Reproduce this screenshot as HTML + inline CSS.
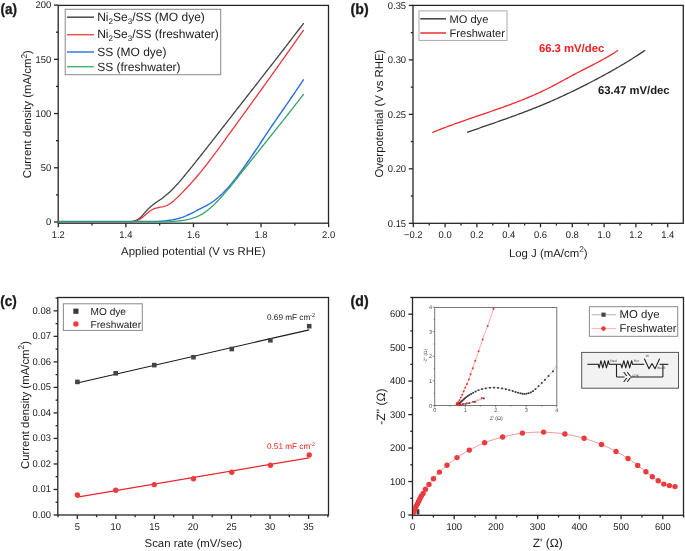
<!DOCTYPE html>
<html><head><meta charset="utf-8"><style>
html,body{margin:0;padding:0;background:#fff;}
body{width:685px;height:551px;overflow:hidden;}
svg{display:block;font-family:"Liberation Sans", sans-serif;}
svg{will-change:transform}
text{text-rendering:geometricPrecision}
</style></head><body>
<svg width="685" height="551" viewBox="0 0 685 551">
<rect width="685" height="551" fill="#fff"/>
<rect x="58.20" y="5.40" width="270.30" height="217.80" fill="none" stroke="#262626" stroke-width="1.3"/>
<line x1="58.30" y1="223.20" x2="58.30" y2="227.20" stroke="#262626" stroke-width="1.3" />
<text transform="translate(58.30,237.80) scale(0.96,1)" font-size="9.8" text-anchor="middle" fill="#1a1a1a" font-weight="normal" >1.2</text>
<line x1="125.88" y1="223.20" x2="125.88" y2="227.20" stroke="#262626" stroke-width="1.3" />
<text transform="translate(125.88,237.80) scale(0.96,1)" font-size="9.8" text-anchor="middle" fill="#1a1a1a" font-weight="normal" >1.4</text>
<line x1="193.46" y1="223.20" x2="193.46" y2="227.20" stroke="#262626" stroke-width="1.3" />
<text transform="translate(193.46,237.80) scale(0.96,1)" font-size="9.8" text-anchor="middle" fill="#1a1a1a" font-weight="normal" >1.6</text>
<line x1="261.04" y1="223.20" x2="261.04" y2="227.20" stroke="#262626" stroke-width="1.3" />
<text transform="translate(261.04,237.80) scale(0.96,1)" font-size="9.8" text-anchor="middle" fill="#1a1a1a" font-weight="normal" >1.8</text>
<line x1="328.62" y1="223.20" x2="328.62" y2="227.20" stroke="#262626" stroke-width="1.3" />
<text transform="translate(328.62,237.80) scale(0.96,1)" font-size="9.8" text-anchor="middle" fill="#1a1a1a" font-weight="normal" >2.0</text>
<line x1="92.09" y1="223.20" x2="92.09" y2="225.40" stroke="#262626" stroke-width="1.3" />
<line x1="159.67" y1="223.20" x2="159.67" y2="225.40" stroke="#262626" stroke-width="1.3" />
<line x1="227.25" y1="223.20" x2="227.25" y2="225.40" stroke="#262626" stroke-width="1.3" />
<line x1="294.83" y1="223.20" x2="294.83" y2="225.40" stroke="#262626" stroke-width="1.3" />
<line x1="54.00" y1="222.00" x2="58.20" y2="222.00" stroke="#262626" stroke-width="1.3" />
<text transform="translate(51.30,225.20) scale(0.96,1)" font-size="9.8" text-anchor="end" fill="#1a1a1a" font-weight="normal" >0</text>
<line x1="54.00" y1="167.78" x2="58.20" y2="167.78" stroke="#262626" stroke-width="1.3" />
<text transform="translate(51.30,170.97) scale(0.96,1)" font-size="9.8" text-anchor="end" fill="#1a1a1a" font-weight="normal" >50</text>
<line x1="54.00" y1="113.55" x2="58.20" y2="113.55" stroke="#262626" stroke-width="1.3" />
<text transform="translate(51.30,116.75) scale(0.96,1)" font-size="9.8" text-anchor="end" fill="#1a1a1a" font-weight="normal" >100</text>
<line x1="54.00" y1="59.32" x2="58.20" y2="59.32" stroke="#262626" stroke-width="1.3" />
<text transform="translate(51.30,62.52) scale(0.96,1)" font-size="9.8" text-anchor="end" fill="#1a1a1a" font-weight="normal" >150</text>
<line x1="54.00" y1="5.10" x2="58.20" y2="5.10" stroke="#262626" stroke-width="1.3" />
<text transform="translate(51.30,8.30) scale(0.96,1)" font-size="9.8" text-anchor="end" fill="#1a1a1a" font-weight="normal" >200</text>
<line x1="56.00" y1="194.89" x2="58.20" y2="194.89" stroke="#262626" stroke-width="1.3" />
<line x1="56.00" y1="140.66" x2="58.20" y2="140.66" stroke="#262626" stroke-width="1.3" />
<line x1="56.00" y1="86.44" x2="58.20" y2="86.44" stroke="#262626" stroke-width="1.3" />
<line x1="56.00" y1="32.21" x2="58.20" y2="32.21" stroke="#262626" stroke-width="1.3" />
<text x="193.30" y="255.40" font-size="11.4" text-anchor="middle" fill="#1a1a1a" font-weight="normal" >Applied potential (V vs RHE)</text>
<text transform="translate(31,114.2) rotate(-90)" font-size="11.4" text-anchor="middle" fill="#1a1a1a">Current density (mA/cm<tspan font-size="8.3" dy="-4.3">2</tspan><tspan dy="4.3">)</tspan></text>
<path d="M58.50,221.70 L60.00,221.70 L61.50,221.70 L63.00,221.70 L64.50,221.70 L66.00,221.70 L67.50,221.70 L69.00,221.70 L70.50,221.70 L72.00,221.70 L73.50,221.70 L75.00,221.70 L76.50,221.70 L78.00,221.70 L79.50,221.70 L81.00,221.70 L82.50,221.70 L84.00,221.70 L85.50,221.70 L87.00,221.70 L88.50,221.70 L90.00,221.70 L91.50,221.70 L93.00,221.70 L94.50,221.70 L96.00,221.70 L97.50,221.70 L99.00,221.70 L100.50,221.70 L102.00,221.70 L103.50,221.70 L105.00,221.70 L106.50,221.70 L108.00,221.70 L109.50,221.70 L111.00,221.70 L112.50,221.70 L114.00,221.70 L115.50,221.70 L117.00,221.70 L118.50,221.70 L120.00,221.70 L121.50,221.70 L123.00,221.70 L124.50,221.70 L126.00,221.70 L127.50,221.70 L129.00,221.70 L130.50,221.65 L132.00,221.50 L133.50,221.16 L135.00,220.70 L136.50,220.10 L138.00,219.30 L139.50,218.25 L141.00,216.94 L142.50,215.38 L144.00,213.69 L145.50,211.94 L147.00,210.22 L148.50,208.62 L150.00,207.18 L151.50,205.89 L153.00,204.71 L154.50,203.61 L156.00,202.57 L157.50,201.56 L159.00,200.55 L160.50,199.51 L162.00,198.43 L163.50,197.29 L165.00,196.10 L166.50,194.85 L168.00,193.55 L169.50,192.17 L171.00,190.74 L172.50,189.25 L174.00,187.71 L175.50,186.12 L177.00,184.49 L178.50,182.81 L180.00,181.10 L181.50,179.35 L183.00,177.58 L184.50,175.78 L186.00,173.96 L187.50,172.12 L189.00,170.27 L190.50,168.41 L192.00,166.54 L193.50,164.67 L195.00,162.79 L196.50,160.91 L198.00,159.02 L199.50,157.13 L201.00,155.23 L202.50,153.33 L204.00,151.43 L205.50,149.53 L207.00,147.62 L208.50,145.71 L210.00,143.79 L211.50,141.87 L213.00,139.96 L214.50,138.04 L216.00,136.11 L217.50,134.19 L219.00,132.27 L220.50,130.34 L222.00,128.41 L223.50,126.49 L225.00,124.56 L226.50,122.64 L228.00,120.71 L229.50,118.79 L231.00,116.86 L232.50,114.94 L234.00,113.02 L235.50,111.09 L237.00,109.17 L238.50,107.25 L240.00,105.33 L241.50,103.41 L243.00,101.49 L244.50,99.58 L246.00,97.66 L247.50,95.74 L249.00,93.82 L250.50,91.90 L252.00,89.98 L253.50,88.06 L255.00,86.15 L256.50,84.23 L258.00,82.31 L259.50,80.38 L261.00,78.46 L262.50,76.54 L264.00,74.62 L265.50,72.69 L267.00,70.77 L268.50,68.84 L270.00,66.92 L271.50,64.99 L273.00,63.06 L274.50,61.13 L276.00,59.20 L277.50,57.26 L279.00,55.33 L280.50,53.39 L282.00,51.45 L283.50,49.51 L285.00,47.57 L286.50,45.62 L288.00,43.68 L289.50,41.73 L291.00,39.78 L292.50,37.82 L294.00,35.87 L295.50,33.91 L297.00,31.94 L298.50,29.98 L300.00,28.01 L301.50,26.04 L303.00,24.07 L303.40,23.54" fill="none" stroke="#444444" stroke-width="1.3" stroke-linejoin="round" stroke-linecap="round" />
<path d="M58.50,221.70 L60.00,221.70 L61.50,221.70 L63.00,221.70 L64.50,221.70 L66.00,221.70 L67.50,221.70 L69.00,221.70 L70.50,221.70 L72.00,221.70 L73.50,221.70 L75.00,221.70 L76.50,221.70 L78.00,221.70 L79.50,221.70 L81.00,221.70 L82.50,221.70 L84.00,221.70 L85.50,221.70 L87.00,221.70 L88.50,221.70 L90.00,221.70 L91.50,221.70 L93.00,221.70 L94.50,221.70 L96.00,221.70 L97.50,221.70 L99.00,221.70 L100.50,221.70 L102.00,221.70 L103.50,221.70 L105.00,221.70 L106.50,221.70 L108.00,221.70 L109.50,221.70 L111.00,221.70 L112.50,221.70 L114.00,221.70 L115.50,221.70 L117.00,221.70 L118.50,221.70 L120.00,221.70 L121.50,221.70 L123.00,221.70 L124.50,221.70 L126.00,221.70 L127.50,221.70 L129.00,221.70 L130.50,221.69 L132.00,221.60 L133.50,221.42 L135.00,221.08 L136.50,220.58 L138.00,220.05 L139.50,219.34 L141.00,218.43 L142.50,217.34 L144.00,216.11 L145.50,214.82 L147.00,213.51 L148.50,212.23 L150.00,211.06 L151.50,210.03 L153.00,209.21 L154.50,208.59 L156.00,208.12 L157.50,207.76 L159.00,207.47 L160.50,207.20 L162.00,206.91 L163.50,206.55 L165.00,206.09 L166.50,205.50 L168.00,204.79 L169.50,203.95 L171.00,202.97 L172.50,201.87 L174.00,200.64 L175.50,199.30 L177.00,197.89 L178.50,196.42 L180.00,194.92 L181.50,193.39 L183.00,191.85 L184.50,190.30 L186.00,188.72 L187.50,187.11 L189.00,185.49 L190.50,183.84 L192.00,182.17 L193.50,180.47 L195.00,178.75 L196.50,177.01 L198.00,175.24 L199.50,173.45 L201.00,171.62 L202.50,169.78 L204.00,167.90 L205.50,166.00 L207.00,164.08 L208.50,162.14 L210.00,160.17 L211.50,158.19 L213.00,156.20 L214.50,154.18 L216.00,152.16 L217.50,150.12 L219.00,148.07 L220.50,146.01 L222.00,143.95 L223.50,141.88 L225.00,139.81 L226.50,137.73 L228.00,135.65 L229.50,133.58 L231.00,131.50 L232.50,129.43 L234.00,127.36 L235.50,125.29 L237.00,123.22 L238.50,121.15 L240.00,119.09 L241.50,117.02 L243.00,114.95 L244.50,112.89 L246.00,110.82 L247.50,108.75 L249.00,106.68 L250.50,104.61 L252.00,102.54 L253.50,100.47 L255.00,98.39 L256.50,96.32 L258.00,94.24 L259.50,92.16 L261.00,90.08 L262.50,88.00 L264.00,85.91 L265.50,83.82 L267.00,81.73 L268.50,79.63 L270.00,77.54 L271.50,75.43 L273.00,73.33 L274.50,71.22 L276.00,69.11 L277.50,67.00 L279.00,64.89 L280.50,62.77 L282.00,60.66 L283.50,58.54 L285.00,56.42 L286.50,54.30 L288.00,52.18 L289.50,50.06 L291.00,47.94 L292.50,45.82 L294.00,43.69 L295.50,41.57 L297.00,39.45 L298.50,37.33 L300.00,35.21 L301.50,33.09 L303.00,30.97 L303.40,30.40" fill="none" stroke="#e8383d" stroke-width="1.3" stroke-linejoin="round" stroke-linecap="round" />
<path d="M58.50,221.40 L60.00,221.40 L61.50,221.40 L63.00,221.40 L64.50,221.40 L66.00,221.40 L67.50,221.40 L69.00,221.40 L70.50,221.40 L72.00,221.40 L73.50,221.40 L75.00,221.40 L76.50,221.40 L78.00,221.40 L79.50,221.40 L81.00,221.40 L82.50,221.40 L84.00,221.40 L85.50,221.40 L87.00,221.40 L88.50,221.40 L90.00,221.40 L91.50,221.40 L93.00,221.40 L94.50,221.40 L96.00,221.40 L97.50,221.40 L99.00,221.40 L100.50,221.40 L102.00,221.40 L103.50,221.40 L105.00,221.40 L106.50,221.40 L108.00,221.40 L109.50,221.40 L111.00,221.40 L112.50,221.40 L114.00,221.40 L115.50,221.40 L117.00,221.40 L118.50,221.40 L120.00,221.40 L121.50,221.40 L123.00,221.40 L124.50,221.40 L126.00,221.40 L127.50,221.40 L129.00,221.40 L130.50,221.40 L132.00,221.40 L133.50,221.40 L135.00,221.40 L136.50,221.40 L138.00,221.40 L139.50,221.40 L141.00,221.40 L142.50,221.40 L144.00,221.40 L145.50,221.40 L147.00,221.40 L148.50,221.40 L150.00,221.40 L151.50,221.40 L153.00,221.40 L154.50,221.40 L156.00,221.40 L157.50,221.38 L159.00,221.32 L160.50,221.21 L162.00,221.09 L163.50,220.97 L165.00,220.83 L166.50,220.68 L168.00,220.50 L169.50,220.30 L171.00,220.07 L172.50,219.82 L174.00,219.53 L175.50,219.21 L177.00,218.85 L178.50,218.46 L180.00,218.03 L181.50,217.56 L183.00,217.04 L184.50,216.47 L186.00,215.86 L187.50,215.20 L189.00,214.51 L190.50,213.78 L192.00,213.04 L193.50,212.27 L195.00,211.50 L196.50,210.73 L198.00,209.96 L199.50,209.20 L201.00,208.43 L202.50,207.66 L204.00,206.89 L205.50,206.10 L207.00,205.28 L208.50,204.42 L210.00,203.52 L211.50,202.57 L213.00,201.55 L214.50,200.45 L216.00,199.29 L217.50,198.05 L219.00,196.75 L220.50,195.38 L222.00,193.95 L223.50,192.45 L225.00,190.90 L226.50,189.30 L228.00,187.63 L229.50,185.92 L231.00,184.16 L232.50,182.35 L234.00,180.50 L235.50,178.61 L237.00,176.68 L238.50,174.71 L240.00,172.70 L241.50,170.67 L243.00,168.60 L244.50,166.51 L246.00,164.39 L247.50,162.25 L249.00,160.09 L250.50,157.90 L252.00,155.70 L253.50,153.49 L255.00,151.26 L256.50,149.02 L258.00,146.77 L259.50,144.52 L261.00,142.26 L262.50,140.00 L264.00,137.73 L265.50,135.47 L267.00,133.22 L268.50,130.96 L270.00,128.72 L271.50,126.48 L273.00,124.26 L274.50,122.05 L276.00,119.85 L277.50,117.67 L279.00,115.49 L280.50,113.32 L282.00,111.16 L283.50,109.00 L285.00,106.84 L286.50,104.69 L288.00,102.53 L289.50,100.36 L291.00,98.20 L292.50,96.02 L294.00,93.84 L295.50,91.64 L297.00,89.44 L298.50,87.22 L300.00,84.98 L301.50,82.72 L303.00,80.45 L303.40,79.84" fill="none" stroke="#2a6ee6" stroke-width="1.4" stroke-linejoin="round" stroke-linecap="round" />
<path d="M58.50,221.90 L60.00,221.90 L61.50,221.90 L63.00,221.90 L64.50,221.90 L66.00,221.90 L67.50,221.90 L69.00,221.90 L70.50,221.90 L72.00,221.90 L73.50,221.90 L75.00,221.90 L76.50,221.90 L78.00,221.90 L79.50,221.90 L81.00,221.90 L82.50,221.90 L84.00,221.90 L85.50,221.90 L87.00,221.90 L88.50,221.90 L90.00,221.90 L91.50,221.90 L93.00,221.90 L94.50,221.90 L96.00,221.90 L97.50,221.90 L99.00,221.90 L100.50,221.90 L102.00,221.90 L103.50,221.90 L105.00,221.90 L106.50,221.90 L108.00,221.90 L109.50,221.90 L111.00,221.90 L112.50,221.90 L114.00,221.90 L115.50,221.90 L117.00,221.90 L118.50,221.90 L120.00,221.90 L121.50,221.90 L123.00,221.90 L124.50,221.90 L126.00,221.90 L127.50,221.90 L129.00,221.90 L130.50,221.90 L132.00,221.90 L133.50,221.90 L135.00,221.90 L136.50,221.90 L138.00,221.90 L139.50,221.90 L141.00,221.90 L142.50,221.90 L144.00,221.90 L145.50,221.90 L147.00,221.90 L148.50,221.90 L150.00,221.90 L151.50,221.90 L153.00,221.90 L154.50,221.90 L156.00,221.90 L157.50,221.90 L159.00,221.90 L160.50,221.90 L162.00,221.90 L163.50,221.90 L165.00,221.90 L166.50,221.85 L168.00,221.78 L169.50,221.67 L171.00,221.52 L172.50,221.44 L174.00,221.34 L175.50,221.22 L177.00,221.08 L178.50,220.93 L180.00,220.76 L181.50,220.57 L183.00,220.35 L184.50,220.11 L186.00,219.85 L187.50,219.55 L189.00,219.22 L190.50,218.85 L192.00,218.43 L193.50,217.97 L195.00,217.44 L196.50,216.86 L198.00,216.21 L199.50,215.49 L201.00,214.70 L202.50,213.82 L204.00,212.87 L205.50,211.83 L207.00,210.73 L208.50,209.55 L210.00,208.30 L211.50,206.99 L213.00,205.62 L214.50,204.20 L216.00,202.72 L217.50,201.19 L219.00,199.62 L220.50,198.00 L222.00,196.34 L223.50,194.65 L225.00,192.92 L226.50,191.16 L228.00,189.37 L229.50,187.55 L231.00,185.72 L232.50,183.87 L234.00,182.00 L235.50,180.12 L237.00,178.23 L238.50,176.34 L240.00,174.44 L241.50,172.54 L243.00,170.65 L244.50,168.76 L246.00,166.87 L247.50,164.99 L249.00,163.11 L250.50,161.23 L252.00,159.35 L253.50,157.47 L255.00,155.60 L256.50,153.73 L258.00,151.86 L259.50,149.98 L261.00,148.11 L262.50,146.24 L264.00,144.37 L265.50,142.50 L267.00,140.63 L268.50,138.76 L270.00,136.89 L271.50,135.02 L273.00,133.14 L274.50,131.26 L276.00,129.39 L277.50,127.51 L279.00,125.62 L280.50,123.74 L282.00,121.85 L283.50,119.96 L285.00,118.07 L286.50,116.17 L288.00,114.27 L289.50,112.37 L291.00,110.46 L292.50,108.54 L294.00,106.63 L295.50,104.70 L297.00,102.78 L298.50,100.84 L300.00,98.90 L301.50,96.96 L303.00,95.01 L303.40,94.49" fill="none" stroke="#33a564" stroke-width="1.3" stroke-linejoin="round" stroke-linecap="round" />
<rect x="65.2" y="9.3" width="155.5" height="65.4" fill="white" stroke="#8a8a8a" stroke-width="1"/>
<line x1="67.00" y1="17.20" x2="94.00" y2="17.20" stroke="#4a4a4a" stroke-width="1.5" />
<text x="97.20" y="20.90" font-size="12" text-anchor="start" fill="#1a1a1a" font-weight="normal" >Ni<tspan font-size="8" dy="3">2</tspan><tspan dy="-3">Se</tspan><tspan font-size="8" dy="3">3</tspan><tspan dy="-3">/SS (MO dye)</tspan></text>
<line x1="67.00" y1="34.70" x2="94.00" y2="34.70" stroke="#ec5050" stroke-width="1.5" />
<text x="97.20" y="38.20" font-size="12" text-anchor="start" fill="#1a1a1a" font-weight="normal" >Ni<tspan font-size="8" dy="3">2</tspan><tspan dy="-3">Se</tspan><tspan font-size="8" dy="3">3</tspan><tspan dy="-3">/SS (freshwater)</tspan></text>
<line x1="67.00" y1="52.00" x2="94.00" y2="52.00" stroke="#3a78e6" stroke-width="1.5" />
<text x="97.20" y="55.90" font-size="12" text-anchor="start" fill="#1a1a1a" font-weight="normal" >SS (MO dye)</text>
<line x1="67.00" y1="66.70" x2="94.00" y2="66.70" stroke="#4cb574" stroke-width="1.5" />
<text x="97.20" y="70.50" font-size="12" text-anchor="start" fill="#1a1a1a" font-weight="normal" >SS (freshwater)</text>
<text transform="translate(0.50,14.20) scale(0.9,1)" font-size="15" text-anchor="start" fill="#1a1a1a" font-weight="bold" stroke="#1a1a1a" stroke-width="0.35">(a)</text>
<rect x="413.00" y="5.40" width="270.30" height="217.90" fill="none" stroke="#262626" stroke-width="1.3"/>
<line x1="413.30" y1="223.30" x2="413.30" y2="227.30" stroke="#262626" stroke-width="1.3" />
<text transform="translate(413.30,237.80) scale(0.96,1)" font-size="9.8" text-anchor="middle" fill="#1a1a1a" font-weight="normal" >−0.2</text>
<line x1="445.10" y1="223.30" x2="445.10" y2="227.30" stroke="#262626" stroke-width="1.3" />
<text transform="translate(445.10,237.80) scale(0.96,1)" font-size="9.8" text-anchor="middle" fill="#1a1a1a" font-weight="normal" >0.0</text>
<line x1="476.90" y1="223.30" x2="476.90" y2="227.30" stroke="#262626" stroke-width="1.3" />
<text transform="translate(476.90,237.80) scale(0.96,1)" font-size="9.8" text-anchor="middle" fill="#1a1a1a" font-weight="normal" >0.2</text>
<line x1="508.70" y1="223.30" x2="508.70" y2="227.30" stroke="#262626" stroke-width="1.3" />
<text transform="translate(508.70,237.80) scale(0.96,1)" font-size="9.8" text-anchor="middle" fill="#1a1a1a" font-weight="normal" >0.4</text>
<line x1="540.50" y1="223.30" x2="540.50" y2="227.30" stroke="#262626" stroke-width="1.3" />
<text transform="translate(540.50,237.80) scale(0.96,1)" font-size="9.8" text-anchor="middle" fill="#1a1a1a" font-weight="normal" >0.6</text>
<line x1="572.30" y1="223.30" x2="572.30" y2="227.30" stroke="#262626" stroke-width="1.3" />
<text transform="translate(572.30,237.80) scale(0.96,1)" font-size="9.8" text-anchor="middle" fill="#1a1a1a" font-weight="normal" >0.8</text>
<line x1="604.10" y1="223.30" x2="604.10" y2="227.30" stroke="#262626" stroke-width="1.3" />
<text transform="translate(604.10,237.80) scale(0.96,1)" font-size="9.8" text-anchor="middle" fill="#1a1a1a" font-weight="normal" >1.0</text>
<line x1="635.90" y1="223.30" x2="635.90" y2="227.30" stroke="#262626" stroke-width="1.3" />
<text transform="translate(635.90,237.80) scale(0.96,1)" font-size="9.8" text-anchor="middle" fill="#1a1a1a" font-weight="normal" >1.2</text>
<line x1="667.70" y1="223.30" x2="667.70" y2="227.30" stroke="#262626" stroke-width="1.3" />
<text transform="translate(667.70,237.80) scale(0.96,1)" font-size="9.8" text-anchor="middle" fill="#1a1a1a" font-weight="normal" >1.4</text>
<line x1="429.20" y1="223.30" x2="429.20" y2="225.50" stroke="#262626" stroke-width="1.3" />
<line x1="461.00" y1="223.30" x2="461.00" y2="225.50" stroke="#262626" stroke-width="1.3" />
<line x1="492.80" y1="223.30" x2="492.80" y2="225.50" stroke="#262626" stroke-width="1.3" />
<line x1="524.60" y1="223.30" x2="524.60" y2="225.50" stroke="#262626" stroke-width="1.3" />
<line x1="556.40" y1="223.30" x2="556.40" y2="225.50" stroke="#262626" stroke-width="1.3" />
<line x1="588.20" y1="223.30" x2="588.20" y2="225.50" stroke="#262626" stroke-width="1.3" />
<line x1="620.00" y1="223.30" x2="620.00" y2="225.50" stroke="#262626" stroke-width="1.3" />
<line x1="651.80" y1="223.30" x2="651.80" y2="225.50" stroke="#262626" stroke-width="1.3" />
<line x1="408.80" y1="223.30" x2="413.00" y2="223.30" stroke="#262626" stroke-width="1.3" />
<text transform="translate(406.10,226.60) scale(0.96,1)" font-size="9.8" text-anchor="end" fill="#1a1a1a" font-weight="normal" >0.15</text>
<line x1="408.80" y1="168.82" x2="413.00" y2="168.82" stroke="#262626" stroke-width="1.3" />
<text transform="translate(406.10,172.12) scale(0.96,1)" font-size="9.8" text-anchor="end" fill="#1a1a1a" font-weight="normal" >0.20</text>
<line x1="408.80" y1="114.35" x2="413.00" y2="114.35" stroke="#262626" stroke-width="1.3" />
<text transform="translate(406.10,117.65) scale(0.96,1)" font-size="9.8" text-anchor="end" fill="#1a1a1a" font-weight="normal" >0.25</text>
<line x1="408.80" y1="59.87" x2="413.00" y2="59.87" stroke="#262626" stroke-width="1.3" />
<text transform="translate(406.10,63.17) scale(0.96,1)" font-size="9.8" text-anchor="end" fill="#1a1a1a" font-weight="normal" >0.30</text>
<line x1="408.80" y1="5.40" x2="413.00" y2="5.40" stroke="#262626" stroke-width="1.3" />
<text transform="translate(406.10,8.70) scale(0.96,1)" font-size="9.8" text-anchor="end" fill="#1a1a1a" font-weight="normal" >0.35</text>
<line x1="410.80" y1="196.06" x2="413.00" y2="196.06" stroke="#262626" stroke-width="1.3" />
<line x1="410.80" y1="141.59" x2="413.00" y2="141.59" stroke="#262626" stroke-width="1.3" />
<line x1="410.80" y1="87.11" x2="413.00" y2="87.11" stroke="#262626" stroke-width="1.3" />
<line x1="410.80" y1="32.64" x2="413.00" y2="32.64" stroke="#262626" stroke-width="1.3" />
<text x="548.3" y="256.5" font-size="11.4" text-anchor="middle" fill="#1a1a1a">Log J (mA/cm<tspan font-size="8.3" dy="-4.3">2</tspan><tspan dy="4.3">)</tspan></text>
<text transform="translate(383.2,113.6) rotate(-90)" font-size="11.4" text-anchor="middle" fill="#1a1a1a">Overpotential (V vs RHE)</text>
<path d="M467.60,132.21 L469.10,131.68 L470.60,131.15 L472.10,130.62 L473.60,130.10 L475.10,129.57 L476.60,129.05 L478.10,128.53 L479.60,128.01 L481.10,127.48 L482.60,126.96 L484.10,126.44 L485.60,125.92 L487.10,125.40 L488.60,124.88 L490.10,124.36 L491.60,123.83 L493.10,123.31 L494.60,122.79 L496.10,122.26 L497.60,121.74 L499.10,121.21 L500.60,120.69 L502.10,120.16 L503.60,119.63 L505.10,119.09 L506.60,118.56 L508.10,118.02 L509.60,117.49 L511.10,116.95 L512.60,116.40 L514.10,115.86 L515.60,115.31 L517.10,114.76 L518.60,114.20 L520.10,113.65 L521.60,113.09 L523.10,112.52 L524.60,111.96 L526.10,111.39 L527.60,110.81 L529.10,110.23 L530.60,109.65 L532.10,109.06 L533.60,108.47 L535.10,107.88 L536.60,107.28 L538.10,106.67 L539.60,106.06 L541.10,105.45 L542.60,104.83 L544.10,104.20 L545.60,103.57 L547.10,102.94 L548.60,102.29 L550.10,101.65 L551.60,100.99 L553.10,100.33 L554.60,99.67 L556.10,99.00 L557.60,98.32 L559.10,97.64 L560.60,96.95 L562.10,96.26 L563.60,95.57 L565.10,94.86 L566.60,94.16 L568.10,93.45 L569.60,92.73 L571.10,92.01 L572.60,91.29 L574.10,90.56 L575.60,89.82 L577.10,89.09 L578.60,88.35 L580.10,87.60 L581.60,86.85 L583.10,86.10 L584.60,85.34 L586.10,84.58 L587.60,83.81 L589.10,83.04 L590.60,82.27 L592.10,81.49 L593.60,80.71 L595.10,79.92 L596.60,79.13 L598.10,78.33 L599.60,77.53 L601.10,76.73 L602.60,75.92 L604.10,75.11 L605.60,74.29 L607.10,73.47 L608.60,72.64 L610.10,71.81 L611.60,70.97 L613.10,70.13 L614.60,69.28 L616.10,68.42 L617.60,67.56 L619.10,66.69 L620.60,65.81 L622.10,64.92 L623.60,64.03 L625.10,63.13 L626.60,62.22 L628.10,61.30 L629.60,60.37 L631.10,59.44 L632.60,58.49 L634.10,57.53 L635.60,56.57 L637.10,55.59 L638.60,54.61 L640.10,53.61 L641.60,52.61 L643.10,51.59 L644.60,50.56 L644.80,50.42" fill="none" stroke="#3c3c3c" stroke-width="1.3" stroke-linejoin="round" stroke-linecap="round" />
<path d="M432.90,132.31 L434.40,131.70 L435.90,131.09 L437.40,130.49 L438.90,129.90 L440.40,129.31 L441.90,128.73 L443.40,128.15 L444.90,127.58 L446.40,127.01 L447.90,126.45 L449.40,125.89 L450.90,125.34 L452.40,124.79 L453.90,124.24 L455.40,123.70 L456.90,123.16 L458.40,122.63 L459.90,122.10 L461.40,121.57 L462.90,121.04 L464.40,120.52 L465.90,120.00 L467.40,119.48 L468.90,118.96 L470.40,118.44 L471.90,117.93 L473.40,117.41 L474.90,116.90 L476.40,116.38 L477.90,115.87 L479.40,115.36 L480.90,114.85 L482.40,114.34 L483.90,113.82 L485.40,113.31 L486.90,112.79 L488.40,112.28 L489.90,111.76 L491.40,111.24 L492.90,110.72 L494.40,110.20 L495.90,109.68 L497.40,109.15 L498.90,108.62 L500.40,108.09 L501.90,107.56 L503.40,107.02 L504.90,106.48 L506.40,105.93 L507.90,105.39 L509.40,104.83 L510.90,104.28 L512.40,103.71 L513.90,103.15 L515.40,102.58 L516.90,102.00 L518.40,101.42 L519.90,100.83 L521.40,100.24 L522.90,99.64 L524.40,99.04 L525.90,98.42 L527.40,97.81 L528.90,97.18 L530.40,96.55 L531.90,95.91 L533.40,95.26 L534.90,94.60 L536.40,93.94 L537.90,93.26 L539.40,92.58 L540.90,91.88 L542.40,91.18 L543.90,90.47 L545.40,89.74 L546.90,89.00 L548.40,88.25 L549.90,87.49 L551.40,86.72 L552.90,85.94 L554.40,85.15 L555.90,84.36 L557.40,83.55 L558.90,82.74 L560.40,81.93 L561.90,81.11 L563.40,80.29 L564.90,79.47 L566.40,78.65 L567.90,77.84 L569.40,77.02 L570.90,76.21 L572.40,75.40 L573.90,74.60 L575.40,73.81 L576.90,73.02 L578.40,72.24 L579.90,71.46 L581.40,70.69 L582.90,69.93 L584.40,69.16 L585.90,68.40 L587.40,67.63 L588.90,66.87 L590.40,66.11 L591.90,65.34 L593.40,64.57 L594.90,63.79 L596.40,63.01 L597.90,62.22 L599.40,61.42 L600.90,60.61 L602.40,59.80 L603.90,58.97 L605.40,58.13 L606.90,57.28 L608.40,56.40 L609.90,55.52 L611.40,54.61 L612.90,53.68 L614.40,52.73 L615.90,51.76 L617.40,50.76 L617.60,50.63" fill="none" stroke="#ee2a2e" stroke-width="1.3" stroke-linejoin="round" stroke-linecap="round" />
<rect x="419.0" y="10.9" width="88.0" height="29.5" fill="white" stroke="#a8a8a8" stroke-width="1"/>
<line x1="420.30" y1="18.80" x2="446.00" y2="18.80" stroke="#4a4a4a" stroke-width="1.6" />
<line x1="420.30" y1="33.00" x2="446.00" y2="33.00" stroke="#ee3a3e" stroke-width="1.6" />
<text x="449.50" y="22.60" font-size="11.1" text-anchor="start" fill="#1a1a1a" font-weight="normal" >MO dye</text>
<text x="449.50" y="36.50" font-size="11.1" text-anchor="start" fill="#1a1a1a" font-weight="normal" >Freshwater</text>
<text x="538.90" y="51.70" font-size="11.3" text-anchor="start" fill="#f21d1d" font-weight="bold" >66.3 mV/dec</text>
<text x="598.00" y="93.90" font-size="11.3" text-anchor="start" fill="#1a1a1a" font-weight="bold" >63.47 mV/dec</text>
<text transform="translate(350.60,14.20) scale(0.94,1)" font-size="15" text-anchor="start" fill="#1a1a1a" font-weight="bold" stroke="#1a1a1a" stroke-width="0.35">(b)</text>
<rect x="57.80" y="297.50" width="270.70" height="217.50" fill="none" stroke="#262626" stroke-width="1.3"/>
<line x1="77.30" y1="515.00" x2="77.30" y2="519.00" stroke="#262626" stroke-width="1.3" />
<text transform="translate(77.30,529.50) scale(0.96,1)" font-size="9.8" text-anchor="middle" fill="#1a1a1a" font-weight="normal" >5</text>
<line x1="115.85" y1="515.00" x2="115.85" y2="519.00" stroke="#262626" stroke-width="1.3" />
<text transform="translate(115.85,529.50) scale(0.96,1)" font-size="9.8" text-anchor="middle" fill="#1a1a1a" font-weight="normal" >10</text>
<line x1="154.40" y1="515.00" x2="154.40" y2="519.00" stroke="#262626" stroke-width="1.3" />
<text transform="translate(154.40,529.50) scale(0.96,1)" font-size="9.8" text-anchor="middle" fill="#1a1a1a" font-weight="normal" >15</text>
<line x1="192.95" y1="515.00" x2="192.95" y2="519.00" stroke="#262626" stroke-width="1.3" />
<text transform="translate(192.95,529.50) scale(0.96,1)" font-size="9.8" text-anchor="middle" fill="#1a1a1a" font-weight="normal" >20</text>
<line x1="231.50" y1="515.00" x2="231.50" y2="519.00" stroke="#262626" stroke-width="1.3" />
<text transform="translate(231.50,529.50) scale(0.96,1)" font-size="9.8" text-anchor="middle" fill="#1a1a1a" font-weight="normal" >25</text>
<line x1="270.05" y1="515.00" x2="270.05" y2="519.00" stroke="#262626" stroke-width="1.3" />
<text transform="translate(270.05,529.50) scale(0.96,1)" font-size="9.8" text-anchor="middle" fill="#1a1a1a" font-weight="normal" >30</text>
<line x1="308.60" y1="515.00" x2="308.60" y2="519.00" stroke="#262626" stroke-width="1.3" />
<text transform="translate(308.60,529.50) scale(0.96,1)" font-size="9.8" text-anchor="middle" fill="#1a1a1a" font-weight="normal" >35</text>
<line x1="58.02" y1="515.00" x2="58.02" y2="517.20" stroke="#262626" stroke-width="1.3" />
<line x1="96.57" y1="515.00" x2="96.57" y2="517.20" stroke="#262626" stroke-width="1.3" />
<line x1="135.12" y1="515.00" x2="135.12" y2="517.20" stroke="#262626" stroke-width="1.3" />
<line x1="173.68" y1="515.00" x2="173.68" y2="517.20" stroke="#262626" stroke-width="1.3" />
<line x1="212.23" y1="515.00" x2="212.23" y2="517.20" stroke="#262626" stroke-width="1.3" />
<line x1="250.77" y1="515.00" x2="250.77" y2="517.20" stroke="#262626" stroke-width="1.3" />
<line x1="289.32" y1="515.00" x2="289.32" y2="517.20" stroke="#262626" stroke-width="1.3" />
<line x1="327.88" y1="515.00" x2="327.88" y2="517.20" stroke="#262626" stroke-width="1.3" />
<line x1="53.60" y1="515.00" x2="57.80" y2="515.00" stroke="#262626" stroke-width="1.3" />
<text transform="translate(50.90,517.80) scale(0.96,1)" font-size="9.8" text-anchor="end" fill="#1a1a1a" font-weight="normal" >0.00</text>
<line x1="53.60" y1="489.48" x2="57.80" y2="489.48" stroke="#262626" stroke-width="1.3" />
<text transform="translate(50.90,492.28) scale(0.96,1)" font-size="9.8" text-anchor="end" fill="#1a1a1a" font-weight="normal" >0.01</text>
<line x1="53.60" y1="463.96" x2="57.80" y2="463.96" stroke="#262626" stroke-width="1.3" />
<text transform="translate(50.90,466.76) scale(0.96,1)" font-size="9.8" text-anchor="end" fill="#1a1a1a" font-weight="normal" >0.02</text>
<line x1="53.60" y1="438.44" x2="57.80" y2="438.44" stroke="#262626" stroke-width="1.3" />
<text transform="translate(50.90,441.24) scale(0.96,1)" font-size="9.8" text-anchor="end" fill="#1a1a1a" font-weight="normal" >0.03</text>
<line x1="53.60" y1="412.92" x2="57.80" y2="412.92" stroke="#262626" stroke-width="1.3" />
<text transform="translate(50.90,415.72) scale(0.96,1)" font-size="9.8" text-anchor="end" fill="#1a1a1a" font-weight="normal" >0.04</text>
<line x1="53.60" y1="387.40" x2="57.80" y2="387.40" stroke="#262626" stroke-width="1.3" />
<text transform="translate(50.90,390.20) scale(0.96,1)" font-size="9.8" text-anchor="end" fill="#1a1a1a" font-weight="normal" >0.05</text>
<line x1="53.60" y1="361.88" x2="57.80" y2="361.88" stroke="#262626" stroke-width="1.3" />
<text transform="translate(50.90,364.68) scale(0.96,1)" font-size="9.8" text-anchor="end" fill="#1a1a1a" font-weight="normal" >0.06</text>
<line x1="53.60" y1="336.36" x2="57.80" y2="336.36" stroke="#262626" stroke-width="1.3" />
<text transform="translate(50.90,339.16) scale(0.96,1)" font-size="9.8" text-anchor="end" fill="#1a1a1a" font-weight="normal" >0.07</text>
<line x1="53.60" y1="310.84" x2="57.80" y2="310.84" stroke="#262626" stroke-width="1.3" />
<text transform="translate(50.90,313.64) scale(0.96,1)" font-size="9.8" text-anchor="end" fill="#1a1a1a" font-weight="normal" >0.08</text>
<line x1="55.60" y1="502.24" x2="57.80" y2="502.24" stroke="#262626" stroke-width="1.3" />
<line x1="55.60" y1="476.72" x2="57.80" y2="476.72" stroke="#262626" stroke-width="1.3" />
<line x1="55.60" y1="451.20" x2="57.80" y2="451.20" stroke="#262626" stroke-width="1.3" />
<line x1="55.60" y1="425.68" x2="57.80" y2="425.68" stroke="#262626" stroke-width="1.3" />
<line x1="55.60" y1="400.16" x2="57.80" y2="400.16" stroke="#262626" stroke-width="1.3" />
<line x1="55.60" y1="374.64" x2="57.80" y2="374.64" stroke="#262626" stroke-width="1.3" />
<line x1="55.60" y1="349.12" x2="57.80" y2="349.12" stroke="#262626" stroke-width="1.3" />
<line x1="55.60" y1="323.60" x2="57.80" y2="323.60" stroke="#262626" stroke-width="1.3" />
<line x1="55.60" y1="298.08" x2="57.80" y2="298.08" stroke="#262626" stroke-width="1.3" />
<text x="193.30" y="547.30" font-size="11.4" text-anchor="middle" fill="#1a1a1a" font-weight="normal" >Scan rate (mV/sec)</text>
<text transform="translate(28.5,405) rotate(-90)" font-size="11.4" text-anchor="middle" fill="#1a1a1a">Current density (mA/cm<tspan font-size="8.3" dy="-4.3">2</tspan><tspan dy="4.3">)</tspan></text>
<line x1="77.30" y1="383.00" x2="309.20" y2="329.80" stroke="#1a1a1a" stroke-width="1.2" />
<line x1="77.30" y1="497.10" x2="309.20" y2="457.80" stroke="#e8262b" stroke-width="1.2" />
<rect x="75.10" y="379.60" width="4.6" height="4.6" fill="#444"/>
<rect x="113.40" y="371.00" width="4.6" height="4.6" fill="#444"/>
<rect x="152.00" y="362.80" width="4.6" height="4.6" fill="#444"/>
<rect x="191.20" y="354.90" width="4.6" height="4.6" fill="#444"/>
<rect x="229.50" y="346.70" width="4.6" height="4.6" fill="#444"/>
<rect x="268.10" y="338.00" width="4.6" height="4.6" fill="#444"/>
<rect x="306.90" y="323.90" width="4.6" height="4.6" fill="#444"/>
<circle cx="77.40" cy="495.00" r="2.7" fill="#eb3b3e"/>
<circle cx="115.70" cy="490.20" r="2.7" fill="#eb3b3e"/>
<circle cx="154.30" cy="484.60" r="2.7" fill="#eb3b3e"/>
<circle cx="193.50" cy="478.70" r="2.7" fill="#eb3b3e"/>
<circle cx="231.80" cy="472.30" r="2.7" fill="#eb3b3e"/>
<circle cx="270.40" cy="465.20" r="2.7" fill="#eb3b3e"/>
<circle cx="309.20" cy="454.90" r="2.7" fill="#eb3b3e"/>
<rect x="63.4" y="303.8" width="78.9" height="26.6" fill="white" stroke="#8a8a8a" stroke-width="1"/>
<rect x="73.3" y="308.6" width="5.2" height="5.2" fill="#3a3a3a"/>
<circle cx="75.9" cy="323.9" r="2.7" fill="#eb3b3e"/>
<text x="90.60" y="314.80" font-size="10.1" text-anchor="start" fill="#1a1a1a" font-weight="normal" >MO dye</text>
<text x="90.60" y="328.00" font-size="10.1" text-anchor="start" fill="#1a1a1a" font-weight="normal" >Freshwater</text>
<text x="267" y="319.5" font-size="8.2" fill="#1a1a1a">0.69 mF cm<tspan font-size="5.5" dy="-3">-2</tspan></text>
<text x="267" y="448.7" font-size="8.2" fill="#f01c1c">0.51 mF cm<tspan font-size="5.5" dy="-3">-2</tspan></text>
<text transform="translate(0.20,306.20) scale(0.9,1)" font-size="15" text-anchor="start" fill="#1a1a1a" font-weight="bold" stroke="#1a1a1a" stroke-width="0.35">(c)</text>
<rect x="412.50" y="297.50" width="271.00" height="217.80" fill="none" stroke="#262626" stroke-width="1.3"/>
<line x1="412.50" y1="515.30" x2="412.50" y2="519.30" stroke="#262626" stroke-width="1.3" />
<text transform="translate(412.50,529.50) scale(0.96,1)" font-size="9.8" text-anchor="middle" fill="#1a1a1a" font-weight="normal" >0</text>
<line x1="454.22" y1="515.30" x2="454.22" y2="519.30" stroke="#262626" stroke-width="1.3" />
<text transform="translate(454.22,529.50) scale(0.96,1)" font-size="9.8" text-anchor="middle" fill="#1a1a1a" font-weight="normal" >100</text>
<line x1="495.94" y1="515.30" x2="495.94" y2="519.30" stroke="#262626" stroke-width="1.3" />
<text transform="translate(495.94,529.50) scale(0.96,1)" font-size="9.8" text-anchor="middle" fill="#1a1a1a" font-weight="normal" >200</text>
<line x1="537.66" y1="515.30" x2="537.66" y2="519.30" stroke="#262626" stroke-width="1.3" />
<text transform="translate(537.66,529.50) scale(0.96,1)" font-size="9.8" text-anchor="middle" fill="#1a1a1a" font-weight="normal" >300</text>
<line x1="579.38" y1="515.30" x2="579.38" y2="519.30" stroke="#262626" stroke-width="1.3" />
<text transform="translate(579.38,529.50) scale(0.96,1)" font-size="9.8" text-anchor="middle" fill="#1a1a1a" font-weight="normal" >400</text>
<line x1="621.10" y1="515.30" x2="621.10" y2="519.30" stroke="#262626" stroke-width="1.3" />
<text transform="translate(621.10,529.50) scale(0.96,1)" font-size="9.8" text-anchor="middle" fill="#1a1a1a" font-weight="normal" >500</text>
<line x1="662.82" y1="515.30" x2="662.82" y2="519.30" stroke="#262626" stroke-width="1.3" />
<text transform="translate(662.82,529.50) scale(0.96,1)" font-size="9.8" text-anchor="middle" fill="#1a1a1a" font-weight="normal" >600</text>
<line x1="433.36" y1="515.30" x2="433.36" y2="517.50" stroke="#262626" stroke-width="1.3" />
<line x1="475.08" y1="515.30" x2="475.08" y2="517.50" stroke="#262626" stroke-width="1.3" />
<line x1="516.80" y1="515.30" x2="516.80" y2="517.50" stroke="#262626" stroke-width="1.3" />
<line x1="558.52" y1="515.30" x2="558.52" y2="517.50" stroke="#262626" stroke-width="1.3" />
<line x1="600.24" y1="515.30" x2="600.24" y2="517.50" stroke="#262626" stroke-width="1.3" />
<line x1="641.96" y1="515.30" x2="641.96" y2="517.50" stroke="#262626" stroke-width="1.3" />
<line x1="683.68" y1="515.30" x2="683.68" y2="517.50" stroke="#262626" stroke-width="1.3" />
<line x1="408.30" y1="515.00" x2="412.50" y2="515.00" stroke="#262626" stroke-width="1.3" />
<text transform="translate(405.60,518.30) scale(0.96,1)" font-size="9.8" text-anchor="end" fill="#1a1a1a" font-weight="normal" >0</text>
<line x1="408.30" y1="481.53" x2="412.50" y2="481.53" stroke="#262626" stroke-width="1.3" />
<text transform="translate(405.60,484.83) scale(0.96,1)" font-size="9.8" text-anchor="end" fill="#1a1a1a" font-weight="normal" >100</text>
<line x1="408.30" y1="448.06" x2="412.50" y2="448.06" stroke="#262626" stroke-width="1.3" />
<text transform="translate(405.60,451.36) scale(0.96,1)" font-size="9.8" text-anchor="end" fill="#1a1a1a" font-weight="normal" >200</text>
<line x1="408.30" y1="414.59" x2="412.50" y2="414.59" stroke="#262626" stroke-width="1.3" />
<text transform="translate(405.60,417.89) scale(0.96,1)" font-size="9.8" text-anchor="end" fill="#1a1a1a" font-weight="normal" >300</text>
<line x1="408.30" y1="381.12" x2="412.50" y2="381.12" stroke="#262626" stroke-width="1.3" />
<text transform="translate(405.60,384.42) scale(0.96,1)" font-size="9.8" text-anchor="end" fill="#1a1a1a" font-weight="normal" >400</text>
<line x1="408.30" y1="347.65" x2="412.50" y2="347.65" stroke="#262626" stroke-width="1.3" />
<text transform="translate(405.60,350.95) scale(0.96,1)" font-size="9.8" text-anchor="end" fill="#1a1a1a" font-weight="normal" >500</text>
<line x1="408.30" y1="314.18" x2="412.50" y2="314.18" stroke="#262626" stroke-width="1.3" />
<text transform="translate(405.60,317.48) scale(0.96,1)" font-size="9.8" text-anchor="end" fill="#1a1a1a" font-weight="normal" >600</text>
<line x1="410.30" y1="498.26" x2="412.50" y2="498.26" stroke="#262626" stroke-width="1.3" />
<line x1="410.30" y1="464.80" x2="412.50" y2="464.80" stroke="#262626" stroke-width="1.3" />
<line x1="410.30" y1="431.32" x2="412.50" y2="431.32" stroke="#262626" stroke-width="1.3" />
<line x1="410.30" y1="397.86" x2="412.50" y2="397.86" stroke="#262626" stroke-width="1.3" />
<line x1="410.30" y1="364.38" x2="412.50" y2="364.38" stroke="#262626" stroke-width="1.3" />
<line x1="410.30" y1="330.91" x2="412.50" y2="330.91" stroke="#262626" stroke-width="1.3" />
<line x1="410.30" y1="297.44" x2="412.50" y2="297.44" stroke="#262626" stroke-width="1.3" />
<text x="547.70" y="546.80" font-size="12.0" text-anchor="middle" fill="#1a1a1a" font-weight="normal" >Z' (Ω)</text>
<text transform="translate(384.7,406.7) rotate(-90)" font-size="12.0" text-anchor="middle" fill="#1a1a1a">-Z'' (Ω)</text>
<clipPath id="clipd"><rect x="413.1" y="298" width="270" height="216.7"/></clipPath>
<g clip-path="url(#clipd)">
<path d="M675.00,486.60 C674.07,486.43 671.27,486.02 669.40,485.60 C667.53,485.18 665.67,484.92 663.80,484.10 C661.93,483.28 660.12,481.93 658.20,480.70 C656.28,479.47 654.35,478.18 652.30,476.70 C650.25,475.22 648.33,473.68 645.90,471.80 C643.47,469.92 640.68,467.62 637.70,465.40 C634.72,463.18 631.62,460.83 628.00,458.50 C624.38,456.17 620.42,453.73 616.00,451.40 C611.58,449.07 606.82,446.68 601.50,444.50 C596.18,442.32 590.20,440.05 584.10,438.30 C578.00,436.55 571.65,435.03 564.90,434.00 C558.15,432.97 550.68,432.25 543.60,432.10 C536.52,431.95 529.23,432.28 522.40,433.10 C515.57,433.92 508.90,435.40 502.60,437.00 C496.30,438.60 490.15,440.52 484.60,442.70 C479.05,444.88 473.90,447.62 469.30,450.10 C464.70,452.58 460.72,455.08 457.00,457.60 C453.28,460.12 449.93,462.78 447.00,465.20 C444.07,467.62 441.65,469.85 439.40,472.10 C437.15,474.35 435.23,476.65 433.50,478.70 C431.77,480.75 430.33,482.63 429.00,484.40 C427.67,486.17 426.48,487.80 425.50,489.30 C424.52,490.80 423.82,492.25 423.10,493.40 C422.38,494.55 421.75,495.28 421.20,496.20 C420.65,497.12 420.23,498.03 419.80,498.90 C419.37,499.77 419.00,500.55 418.60,501.40 C418.20,502.25 417.83,503.15 417.40,504.00 C416.97,504.85 416.42,505.65 416.00,506.50 C415.58,507.35 415.25,508.25 414.90,509.10 C414.55,509.95 414.20,510.82 413.90,511.60 C413.60,512.38 413.28,513.15 413.10,513.80 C412.92,514.45 412.85,515.22 412.80,515.50" fill="none" stroke="#f08080" stroke-width="0.8" stroke-linejoin="round" stroke-linecap="round" />
<rect x="416.6" y="509.2" width="2.8" height="5.4" fill="#3a3a3a"/>
<circle cx="675.00" cy="486.60" r="2.7" fill="#eb3b3e"/>
<circle cx="669.40" cy="485.60" r="2.7" fill="#eb3b3e"/>
<circle cx="663.80" cy="484.10" r="2.7" fill="#eb3b3e"/>
<circle cx="658.20" cy="480.70" r="2.7" fill="#eb3b3e"/>
<circle cx="652.30" cy="476.70" r="2.7" fill="#eb3b3e"/>
<circle cx="645.90" cy="471.80" r="2.7" fill="#eb3b3e"/>
<circle cx="637.70" cy="465.40" r="2.7" fill="#eb3b3e"/>
<circle cx="628.00" cy="458.50" r="2.7" fill="#eb3b3e"/>
<circle cx="616.00" cy="451.40" r="2.7" fill="#eb3b3e"/>
<circle cx="601.50" cy="444.50" r="2.7" fill="#eb3b3e"/>
<circle cx="584.10" cy="438.30" r="2.7" fill="#eb3b3e"/>
<circle cx="564.90" cy="434.00" r="2.7" fill="#eb3b3e"/>
<circle cx="543.60" cy="432.10" r="2.7" fill="#eb3b3e"/>
<circle cx="522.40" cy="433.10" r="2.7" fill="#eb3b3e"/>
<circle cx="502.60" cy="437.00" r="2.7" fill="#eb3b3e"/>
<circle cx="484.60" cy="442.70" r="2.7" fill="#eb3b3e"/>
<circle cx="469.30" cy="450.10" r="2.7" fill="#eb3b3e"/>
<circle cx="457.00" cy="457.60" r="2.7" fill="#eb3b3e"/>
<circle cx="447.00" cy="465.20" r="2.7" fill="#eb3b3e"/>
<circle cx="439.40" cy="472.10" r="2.7" fill="#eb3b3e"/>
<circle cx="433.50" cy="478.70" r="2.7" fill="#eb3b3e"/>
<circle cx="429.00" cy="484.40" r="2.7" fill="#eb3b3e"/>
<circle cx="425.50" cy="489.30" r="2.7" fill="#eb3b3e"/>
<circle cx="423.10" cy="493.40" r="2.7" fill="#eb3b3e"/>
<circle cx="421.20" cy="496.20" r="2.7" fill="#eb3b3e"/>
<circle cx="419.80" cy="498.90" r="2.7" fill="#eb3b3e"/>
<circle cx="418.60" cy="501.40" r="2.7" fill="#eb3b3e"/>
<circle cx="417.40" cy="504.00" r="2.7" fill="#eb3b3e"/>
<circle cx="416.00" cy="506.50" r="2.7" fill="#eb3b3e"/>
<circle cx="414.90" cy="509.10" r="2.7" fill="#eb3b3e"/>
<circle cx="413.90" cy="511.60" r="2.7" fill="#eb3b3e"/>
<circle cx="413.10" cy="513.80" r="2.7" fill="#eb3b3e"/>
<circle cx="412.80" cy="515.50" r="2.7" fill="#eb3b3e"/>
</g>
<rect x="434.7" y="307.5" width="122.10" height="98.00" fill="white" stroke="#777" stroke-width="1.0"/>
<line x1="434.70" y1="405.50" x2="434.70" y2="407.50" stroke="#555" stroke-width="0.7" />
<text x="434.70" y="412.20" font-size="5.6" text-anchor="middle" fill="#555" font-weight="normal" >0</text>
<line x1="432.70" y1="405.50" x2="434.70" y2="405.50" stroke="#555" stroke-width="0.7" />
<text x="432.10" y="407.50" font-size="5.6" text-anchor="end" fill="#555" font-weight="normal" >0</text>
<line x1="465.20" y1="405.50" x2="465.20" y2="407.50" stroke="#555" stroke-width="0.7" />
<text x="465.20" y="412.20" font-size="5.6" text-anchor="middle" fill="#555" font-weight="normal" >1</text>
<line x1="432.70" y1="380.90" x2="434.70" y2="380.90" stroke="#555" stroke-width="0.7" />
<text x="432.10" y="382.90" font-size="5.6" text-anchor="end" fill="#555" font-weight="normal" >1</text>
<line x1="495.70" y1="405.50" x2="495.70" y2="407.50" stroke="#555" stroke-width="0.7" />
<text x="495.70" y="412.20" font-size="5.6" text-anchor="middle" fill="#555" font-weight="normal" >2</text>
<line x1="432.70" y1="356.30" x2="434.70" y2="356.30" stroke="#555" stroke-width="0.7" />
<text x="432.10" y="358.30" font-size="5.6" text-anchor="end" fill="#555" font-weight="normal" >2</text>
<line x1="526.20" y1="405.50" x2="526.20" y2="407.50" stroke="#555" stroke-width="0.7" />
<text x="526.20" y="412.20" font-size="5.6" text-anchor="middle" fill="#555" font-weight="normal" >3</text>
<line x1="432.70" y1="331.70" x2="434.70" y2="331.70" stroke="#555" stroke-width="0.7" />
<text x="432.10" y="333.70" font-size="5.6" text-anchor="end" fill="#555" font-weight="normal" >3</text>
<line x1="556.70" y1="405.50" x2="556.70" y2="407.50" stroke="#555" stroke-width="0.7" />
<text x="556.70" y="412.20" font-size="5.6" text-anchor="middle" fill="#555" font-weight="normal" >4</text>
<line x1="432.70" y1="307.10" x2="434.70" y2="307.10" stroke="#555" stroke-width="0.7" />
<text x="432.10" y="309.10" font-size="5.6" text-anchor="end" fill="#555" font-weight="normal" >4</text>
<line x1="449.95" y1="405.50" x2="449.95" y2="406.70" stroke="#555" stroke-width="0.6" />
<line x1="433.50" y1="393.20" x2="434.70" y2="393.20" stroke="#555" stroke-width="0.6" />
<line x1="480.45" y1="405.50" x2="480.45" y2="406.70" stroke="#555" stroke-width="0.6" />
<line x1="433.50" y1="368.60" x2="434.70" y2="368.60" stroke="#555" stroke-width="0.6" />
<line x1="510.95" y1="405.50" x2="510.95" y2="406.70" stroke="#555" stroke-width="0.6" />
<line x1="433.50" y1="344.00" x2="434.70" y2="344.00" stroke="#555" stroke-width="0.6" />
<line x1="541.45" y1="405.50" x2="541.45" y2="406.70" stroke="#555" stroke-width="0.6" />
<line x1="433.50" y1="319.40" x2="434.70" y2="319.40" stroke="#555" stroke-width="0.6" />
<text x="496.20" y="419.70" font-size="5.2" text-anchor="middle" fill="#333" font-weight="normal" >Z' (Ω)</text>
<text transform="translate(426.5,356) rotate(-90)" font-size="4.6" text-anchor="middle" fill="#444">-Z'' (Ω)</text>
<path d="M458.20,404.67 L459.00,403.83 L459.80,403.01 L460.60,402.22 L461.40,401.45 L462.20,400.71 L463.00,399.98 L463.80,399.28 L464.60,398.61 L465.40,397.95 L466.20,397.32 L467.00,396.71 L467.80,396.12 L468.60,395.56 L469.40,395.01 L470.20,394.49 L471.00,393.99 L471.80,393.50 L472.60,393.04 L473.40,392.60 L474.20,392.18 L475.00,391.78 L475.80,391.40 L476.60,391.04 L477.40,390.70 L478.20,390.37 L479.00,390.07 L479.80,389.78 L480.60,389.51 L481.40,389.26 L482.20,389.03 L483.00,388.82 L483.80,388.62 L484.60,388.45 L485.40,388.28 L486.20,388.14 L487.00,388.01 L487.80,387.90 L488.60,387.81 L489.40,387.73 L490.20,387.66 L491.00,387.62 L491.80,387.58 L492.60,387.57 L493.40,387.57 L494.20,387.58 L495.00,387.61 L495.80,387.65 L496.60,387.70 L497.40,387.77 L498.20,387.86 L499.00,387.95 L499.80,388.06 L500.60,388.19 L501.40,388.32 L502.20,388.47 L503.00,388.62 L503.80,388.79 L504.60,388.96 L505.40,389.14 L506.20,389.34 L507.00,389.54 L507.80,389.74 L508.60,389.95 L509.40,390.17 L510.20,390.40 L511.00,390.62 L511.80,390.86 L512.60,391.09 L513.40,391.33 L514.20,391.57 L515.00,391.81 L515.80,392.06 L516.60,392.30 L517.40,392.54 L518.20,392.77 L519.00,392.99 L519.80,393.19 L520.60,393.37 L521.40,393.52 L522.20,393.65 L523.00,393.74 L523.80,393.79 L524.60,393.81 L525.40,393.77 L526.20,393.69 L527.00,393.56 L527.80,393.37 L528.60,393.13 L529.40,392.83 L530.20,392.49 L531.00,392.10 L531.80,391.67 L532.60,391.19 L533.40,390.67 L534.20,390.11 L535.00,389.52 L535.80,388.88 L536.60,388.21 L537.40,387.51 L538.20,386.77 L539.00,386.01 L539.80,385.22 L540.60,384.40 L541.40,383.56 L542.20,382.71 L543.00,381.85 L543.80,380.97 L544.60,380.09 L545.40,379.21 L546.20,378.32 L547.00,377.45 L547.80,376.57 L548.60,375.71 L549.40,374.87 L550.20,374.04 L551.00,373.23 L551.80,372.45 L552.60,371.70 L552.90,371.43 L556.7,365.5" fill="none" stroke="#888" stroke-width="0.5" stroke-linejoin="round" stroke-linecap="round" />
<rect x="457.35" y="403.75" width="1.7" height="1.7" fill="#333"/>
<rect x="457.85" y="403.25" width="1.7" height="1.7" fill="#333"/>
<rect x="458.45" y="402.75" width="1.7" height="1.7" fill="#333"/>
<rect x="459.15" y="402.05" width="1.7" height="1.7" fill="#333"/>
<rect x="459.95" y="401.25" width="1.7" height="1.7" fill="#333"/>
<rect x="460.85" y="400.35" width="1.7" height="1.7" fill="#333"/>
<rect x="461.85" y="399.45" width="1.7" height="1.7" fill="#333"/>
<rect x="462.95" y="398.45" width="1.7" height="1.7" fill="#333"/>
<rect x="464.15" y="397.35" width="1.7" height="1.7" fill="#333"/>
<rect x="465.45" y="396.25" width="1.7" height="1.7" fill="#333"/>
<rect x="466.95" y="395.15" width="1.7" height="1.7" fill="#333"/>
<rect x="468.55" y="394.05" width="1.7" height="1.7" fill="#333"/>
<rect x="470.35" y="393.05" width="1.7" height="1.7" fill="#333"/>
<rect x="472.35" y="391.95" width="1.7" height="1.7" fill="#333"/>
<rect x="474.75" y="390.65" width="1.7" height="1.7" fill="#333"/>
<rect x="477.65" y="389.35" width="1.7" height="1.7" fill="#333"/>
<rect x="481.15" y="388.25" width="1.7" height="1.7" fill="#333"/>
<rect x="484.95" y="387.55" width="1.7" height="1.7" fill="#333"/>
<rect x="489.05" y="386.95" width="1.7" height="1.7" fill="#333"/>
<rect x="493.15" y="386.75" width="1.7" height="1.7" fill="#333"/>
<rect x="497.25" y="386.95" width="1.7" height="1.7" fill="#333"/>
<rect x="501.25" y="387.55" width="1.7" height="1.7" fill="#333"/>
<rect x="504.95" y="388.35" width="1.7" height="1.7" fill="#333"/>
<rect x="508.45" y="389.15" width="1.7" height="1.7" fill="#333"/>
<rect x="511.85" y="390.15" width="1.7" height="1.7" fill="#333"/>
<rect x="514.75" y="391.15" width="1.7" height="1.7" fill="#333"/>
<rect x="517.15" y="391.85" width="1.7" height="1.7" fill="#333"/>
<rect x="519.55" y="392.45" width="1.7" height="1.7" fill="#333"/>
<rect x="521.55" y="392.85" width="1.7" height="1.7" fill="#333"/>
<rect x="523.55" y="393.05" width="1.7" height="1.7" fill="#333"/>
<rect x="525.65" y="392.85" width="1.7" height="1.7" fill="#333"/>
<rect x="527.75" y="392.35" width="1.7" height="1.7" fill="#333"/>
<rect x="529.95" y="391.55" width="1.7" height="1.7" fill="#333"/>
<rect x="532.15" y="390.25" width="1.7" height="1.7" fill="#333"/>
<rect x="534.65" y="388.25" width="1.7" height="1.7" fill="#333"/>
<rect x="537.65" y="385.35" width="1.7" height="1.7" fill="#333"/>
<rect x="540.85" y="382.15" width="1.7" height="1.7" fill="#333"/>
<rect x="544.05" y="378.95" width="1.7" height="1.7" fill="#333"/>
<rect x="547.65" y="375.15" width="1.7" height="1.7" fill="#333"/>
<rect x="552.05" y="370.55" width="1.7" height="1.7" fill="#333"/>
<path d="M459.50,404.60 L462.50,404.40 L465.50,403.90 L469.20,403.10 L474.80,401.90 L483.80,398.40" fill="none" stroke="#888" stroke-width="0.5"/>
<rect x="458.65" y="403.75" width="1.7" height="1.7" fill="#333"/>
<rect x="461.65" y="403.55" width="1.7" height="1.7" fill="#333"/>
<rect x="464.65" y="403.05" width="1.7" height="1.7" fill="#333"/>
<rect x="468.35" y="402.25" width="1.7" height="1.7" fill="#333"/>
<rect x="473.95" y="401.05" width="1.7" height="1.7" fill="#333"/>
<rect x="482.95" y="397.55" width="1.7" height="1.7" fill="#333"/>
<path d="M458.50,404.50 L460.50,404.40 L463.00,404.00 L466.80,403.30 L473.00,401.70 L481.90,398.00" fill="none" stroke="#f77" stroke-width="0.5"/>
<circle cx="458.50" cy="404.50" r="0.95" fill="#e82a2a"/>
<circle cx="460.50" cy="404.40" r="0.95" fill="#e82a2a"/>
<circle cx="463.00" cy="404.00" r="0.95" fill="#e82a2a"/>
<circle cx="466.80" cy="403.30" r="0.95" fill="#e82a2a"/>
<circle cx="473.00" cy="401.70" r="0.95" fill="#e82a2a"/>
<circle cx="481.90" cy="398.00" r="0.95" fill="#e82a2a"/>
<path d="M456.80,404.60 L457.20,403.40 L458.30,402.10 L459.50,400.30 L460.80,397.60 L462.30,394.80 L463.70,391.20 L465.30,387.60 L467.00,384.00 L468.80,379.40 L470.60,374.30 L472.80,368.20 L475.30,360.70 L478.60,351.30 L482.60,339.50 L487.70,325.90 L493.50,309.00" fill="none" stroke="#f55" stroke-width="0.5"/>
<circle cx="456.80" cy="404.60" r="0.95" fill="#e82a2a"/>
<circle cx="457.20" cy="403.40" r="0.95" fill="#e82a2a"/>
<circle cx="458.30" cy="402.10" r="0.95" fill="#e82a2a"/>
<circle cx="459.50" cy="400.30" r="0.95" fill="#e82a2a"/>
<circle cx="460.80" cy="397.60" r="0.95" fill="#e82a2a"/>
<circle cx="462.30" cy="394.80" r="0.95" fill="#e82a2a"/>
<circle cx="463.70" cy="391.20" r="0.95" fill="#e82a2a"/>
<circle cx="465.30" cy="387.60" r="0.95" fill="#e82a2a"/>
<circle cx="467.00" cy="384.00" r="0.95" fill="#e82a2a"/>
<circle cx="468.80" cy="379.40" r="0.95" fill="#e82a2a"/>
<circle cx="470.60" cy="374.30" r="0.95" fill="#e82a2a"/>
<circle cx="472.80" cy="368.20" r="0.95" fill="#e82a2a"/>
<circle cx="475.30" cy="360.70" r="0.95" fill="#e82a2a"/>
<circle cx="478.60" cy="351.30" r="0.95" fill="#e82a2a"/>
<circle cx="482.60" cy="339.50" r="0.95" fill="#e82a2a"/>
<circle cx="487.70" cy="325.90" r="0.95" fill="#e82a2a"/>
<circle cx="493.50" cy="309.00" r="0.95" fill="#e82a2a"/>
<circle cx="456.60" cy="404.00" r="0.95" fill="#e82a2a"/>
<circle cx="457.40" cy="404.60" r="0.95" fill="#e82a2a"/>
<circle cx="458.00" cy="404.70" r="0.95" fill="#e82a2a"/>
<circle cx="457.00" cy="403.00" r="0.95" fill="#e82a2a"/>
<circle cx="456.90" cy="403.90" r="0.95" fill="#e82a2a"/>
<rect x="589.4" y="306.7" width="88.3" height="29.6" fill="white" stroke="#8a8a8a" stroke-width="1"/>
<line x1="591.60" y1="314.70" x2="616.00" y2="314.70" stroke="#a0a0a0" stroke-width="0.8" />
<rect x="601.4" y="312.6" width="4.2" height="4.2" fill="#444"/>
<line x1="591.60" y1="328.60" x2="616.00" y2="328.60" stroke="#f4a0a0" stroke-width="0.8" />
<circle cx="603.5" cy="328.6" r="2.3" fill="#eb3b3e"/>
<text x="619.60" y="317.90" font-size="11.4" text-anchor="start" fill="#1a1a1a" font-weight="normal" >MO dye</text>
<text x="619.60" y="331.60" font-size="11.4" text-anchor="start" fill="#1a1a1a" font-weight="normal" >Freshwater</text>
<rect x="581.7" y="352.4" width="96.8" height="35.8" fill="#f2f2f2" stroke="#555" stroke-width="1"/>
<line x1="587.30" y1="364.30" x2="598.20" y2="364.30" stroke="#222" stroke-width="1.1" />
<path d="M598.20,364.30 L599.12,367.90 L600.95,360.70 L602.78,367.90 L604.62,360.70 L606.45,367.90 L608.28,360.70 L609.20,364.30" fill="none" stroke="#222" stroke-width="1.1" stroke-linejoin="round" stroke-linecap="round" />
<line x1="609.20" y1="364.30" x2="620.90" y2="364.30" stroke="#222" stroke-width="1.1" />
<path d="M620.90,364.30 L621.88,367.90 L623.82,360.70 L625.77,367.90 L627.73,360.70 L629.67,367.90 L631.62,360.70 L632.60,364.30" fill="none" stroke="#222" stroke-width="1.1" stroke-linejoin="round" stroke-linecap="round" />
<line x1="632.60" y1="364.30" x2="644.20" y2="364.30" stroke="#222" stroke-width="1.1" />
<path d="M644.5,359 L649,368.8 L652,363.5 L655,368.8 L659.5,359" fill="none" stroke="#222" stroke-width="1.1" stroke-linejoin="round" stroke-linecap="round" />
<line x1="659.50" y1="364.30" x2="668.30" y2="364.30" stroke="#222" stroke-width="1.1" />
<line x1="616.50" y1="364.30" x2="616.50" y2="377.00" stroke="#222" stroke-width="1.1" />
<line x1="616.50" y1="377.00" x2="662.90" y2="377.00" stroke="#222" stroke-width="1.1" />
<line x1="662.90" y1="377.00" x2="662.90" y2="364.30" stroke="#222" stroke-width="1.1" />
<path d="M624,372.5 L627.5,377 L624,381.5 M627.5,372.5 L631,377 L627.5,381.5" fill="none" stroke="#222" stroke-width="1.1" stroke-linejoin="round" stroke-linecap="round" />
<rect x="624.5" y="376" width="6" height="2" fill="#f2f2f2"/>
<text x="610.2" y="361.5" font-size="3.3" fill="#333">Rsol</text>
<text x="633.7" y="361.5" font-size="3.3" fill="#333">Rct</text>
<text x="645.7" y="356.8" font-size="3.3" fill="#333">W</text>
<text x="657" y="369" font-size="3.3" fill="#333">Wo-R</text>
<text x="632.2" y="377" font-size="3.3" fill="#333">CPE</text>
<text transform="translate(350.60,306.20) scale(0.94,1)" font-size="15" text-anchor="start" fill="#1a1a1a" font-weight="bold" stroke="#1a1a1a" stroke-width="0.35">(d)</text>
</svg></body></html>
